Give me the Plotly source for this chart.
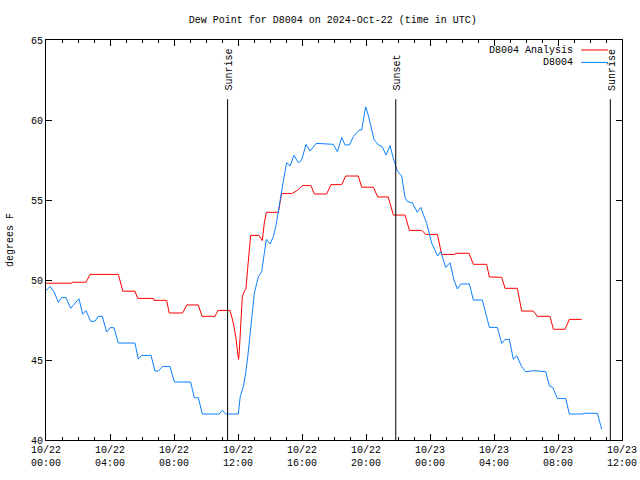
import pandas as pd
import plotly.graph_objects as go

base = pd.Timestamp("2024-10-22 00:00")

# hours after 2024-10-22 00:00 UTC, values in degrees F
red_hours = [0.0, 1.6, 1.65, 2.5, 2.75, 4.52, 4.8, 5.56, 5.73, 6.71, 6.75, 7.54, 7.7, 8.54, 8.8, 9.52,
             9.75, 10.56, 10.75, 11.5, 11.71, 11.875, 11.98, 12.04, 12.08, 12.14, 12.27, 12.39, 12.5,
             12.6, 12.69, 12.79, 13.31, 13.44, 13.52, 13.64, 13.77, 14.52, 14.73, 15.36, 15.67, 16.04,
             16.56, 16.77, 17.54, 17.81, 18.48, 18.73, 19.52, 19.73, 20.46, 20.73, 21.39, 21.71, 22.44,
             22.71, 23.48, 23.75, 24.46, 24.73, 25.56, 25.6, 26.44, 26.71, 27.54, 27.71, 28.48, 28.69,
             29.46, 29.73, 30.46, 30.71, 31.5, 31.71, 32.44, 32.71, 33.48]
red_values = [49.8, 49.8, 49.86, 49.86, 50.35, 50.35, 49.3, 49.3, 48.85, 48.85, 48.73, 48.73, 47.94,
              47.94, 48.44, 48.44, 47.73, 47.73, 48.1, 48.1, 47.3, 46.36, 45.42, 45.04, 45.52, 46.56,
              48.96, 49.27, 49.48, 50.67, 51.5, 52.79, 52.79, 52.6, 52.46, 53.54, 54.23, 54.23, 55.4,
              55.4, 55.58, 55.9, 55.9, 55.375, 55.375, 55.96, 55.96, 56.5, 56.5, 55.8, 55.8, 55.19,
              55.19, 54.06, 54.06, 53.1, 53.1, 52.85, 52.85, 51.6, 51.6, 51.67, 51.67, 50.98, 50.98,
              50.19, 50.17, 49.48, 49.48, 48.06, 48.06, 47.73, 47.73, 46.92, 46.92, 47.54, 47.54]

blue_hours = [0.0, 0.25, 0.5, 0.77, 0.98, 1.25, 1.54, 1.77, 2.06, 2.29, 2.5, 2.79, 3.06, 3.27, 3.52,
              3.79, 4.0, 4.25, 4.52, 5.56, 5.77, 5.98, 6.56, 6.81, 7.02, 7.29, 7.75, 8.02, 9.04, 9.27,
              9.52, 9.77, 10.83, 11.02, 11.23, 12.02, 12.14, 12.33, 12.48, 12.61, 12.75, 12.89, 13.02,
              13.17, 13.27, 13.48, 13.63, 13.77, 14.0, 14.21, 14.36, 14.52, 14.67, 14.83, 14.94, 15.04,
              15.25, 15.5, 15.77, 15.98, 16.25, 16.5, 16.88, 17.96, 18.21, 18.48, 18.69, 18.96, 19.21,
              19.58, 19.73, 19.98, 20.14, 20.5, 20.77, 21.02, 21.25, 21.5, 21.71, 21.86, 21.96, 22.23,
              22.44, 22.58, 22.89, 23.21, 23.42, 23.79, 24.11, 24.48, 24.67, 24.98, 25.25, 25.5, 25.71,
              25.92, 26.46, 26.71, 27.27, 27.71, 28.21, 28.48, 28.69, 28.96, 29.21, 29.42, 29.73, 29.98,
              30.46, 31.23, 31.46, 31.67, 31.96, 32.48, 32.71, 33.54, 33.63, 34.46, 34.73]
blue_values = [49.33, 49.6, 49.27, 48.6, 48.9, 48.9, 48.23, 48.48, 48.83, 47.875, 48.08, 47.42, 47.42,
               47.73, 47.73, 46.75, 47.02, 47.02, 46.06, 46.06, 45.06, 45.29, 45.29, 44.31, 44.31, 44.6,
               44.6, 43.625, 43.625, 42.64, 42.64, 41.625, 41.625, 41.85, 41.625, 41.625, 42.71, 43.33,
               44.17, 45.21, 46.46, 47.92, 49.17, 49.79, 50.21, 50.52, 51.46, 52.54, 52.25, 52.71, 53.33,
               54.375, 55.21, 56.15, 56.8, 57.33, 57.125, 57.79, 57.33, 57.5, 58.48, 58.06, 58.54, 58.48,
               58.02, 58.9, 58.44, 58.44, 58.96, 59.375, 59.375, 60.83, 60.31, 58.79, 58.44, 58.33, 57.81,
               58.4, 57.6, 57.04, 56.81, 56.5, 55.17, 54.9, 54.83, 54.23, 54.54, 53.54, 52.29, 51.5, 51.77,
               50.79, 51.08, 50.0, 49.44, 49.75, 49.75, 48.75, 48.75, 47.04, 47.04, 46.04, 46.29, 46.29,
               45.04, 45.27, 44.58, 44.27, 44.33, 44.27, 43.375, 43.29, 42.6, 42.6, 41.625, 41.625, 41.67,
               41.67, 40.67]

event_names = ["Sunrise", "Sunset", "Sunrise"]
event_hours = [11.35, 21.86, 35.27]

series_names = ["D8004 Analysis", "D8004"]
series_colors = ["#ff0000", "#0a80ff"]

title_text = "Dew Point for D8004 on 2024-Oct-22 (time in UTC)"
y_title = "degrees F"


def to_time(hours):
    return base + pd.to_timedelta(pd.Series(hours, dtype=float), unit="h")


FONT = "Liberation Mono"

fig = go.Figure()
fig.add_trace(go.Scatter(x=to_time(red_hours), y=red_values, mode="lines",
                         line=dict(color=series_colors[0], width=1), name=series_names[0],
                         showlegend=False))
fig.add_trace(go.Scatter(x=to_time(blue_hours), y=blue_values, mode="lines",
                         line=dict(color=series_colors[1], width=1), name=series_names[1],
                         showlegend=False))

event_times = to_time(event_hours)
for name, t in zip(event_names, event_times):
    fig.add_shape(type="line", xref="x", yref="y", x0=t, x1=t, y0=40, y1=61.3,
                  line=dict(color="black", width=1))
    fig.add_annotation(x=t, y=61.7, xref="x", yref="y", text=name, textangle=-90,
                       showarrow=False, xanchor="center", yanchor="bottom", xshift=2,
                       font=dict(family=FONT, size=10, color="black"))

# legend (key at top right, sample line right of text)
key_rows = [0.975, 0.944]
for name, color, yy in zip(series_names, series_colors, key_rows):
    fig.add_annotation(x=0.918, y=yy, xref="paper", yref="paper", text=name, showarrow=False,
                       xanchor="right", yanchor="middle", font=dict(family=FONT, size=10, color="black"))
    fig.add_shape(type="line", xref="paper", yref="paper", x0=0.929, x1=0.976, y0=yy, y1=yy,
                  line=dict(color=color, width=1))

# y-axis title
fig.add_annotation(x=-0.0625, y=0.5, xref="paper", yref="paper", text=y_title, textangle=-90,
                   showarrow=False, xanchor="center", yanchor="middle",
                   font=dict(family=FONT, size=10, color="black"))

fig.update_layout(
    width=640, height=480,
    margin=dict(l=46, r=18, t=40, b=40, autoexpand=False),
    paper_bgcolor="white", plot_bgcolor="white",
    hovermode=False,
    title=dict(text=title_text, x=0.52, xanchor="center", y=0.96, yanchor="middle",
               font=dict(family=FONT, size=10, color="black")),
    font=dict(family=FONT, size=10, color="black"),
)
fig.update_xaxes(
    type="date", automargin=False,
    range=[base, base + pd.Timedelta(hours=36)],
    tick0=base, dtick=4 * 3600 * 1000, tickformat="%m/%d<br>%H:%M",
    ticks="inside", ticklen=6, tickcolor="black",
    minor=dict(dtick=3600 * 1000, ticks="inside", ticklen=3, tickcolor="black"),
    showline=True, linecolor="black", linewidth=1, mirror="ticks",
    showgrid=False, zeroline=False,
    tickfont=dict(family=FONT, size=10, color="black"),
)
fig.update_yaxes(
    range=[40, 65], dtick=5, tick0=40, automargin=False,
    ticks="inside", ticklen=6, tickcolor="black",
    showline=True, linecolor="black", linewidth=1, mirror="ticks",
    showgrid=False, zeroline=False,
    tickfont=dict(family=FONT, size=10, color="black"),
)

fig.write_html("out.html", config={"displayModeBar": False},
               post_script="document.body.style.margin='0';")
